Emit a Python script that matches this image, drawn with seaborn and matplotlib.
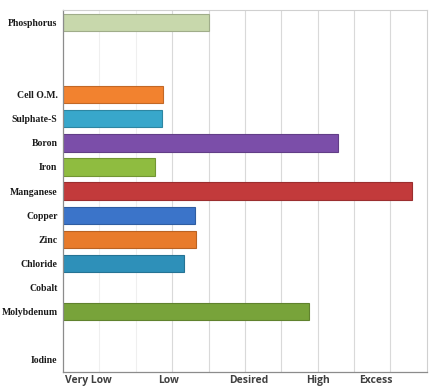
import numpy as np
import pandas as pd
import matplotlib
matplotlib.use("Agg")
import matplotlib.pyplot as plt
import seaborn as sns

# -----------------------------
# DATA
# -----------------------------
# blank slots keep the gaps that the chart shows between groups
nutrients = ["Phosphorus", " ", "  ", "Cell O.M.", "Sulphate-S", "Boron", "Iron",
             "Manganese", "Copper", "Zinc", "Chloride", "Cobalt", "Molybdenum",
             "   ", "Iodine"]
levels = [4.0, 0, 0, 2.75, 2.72, 7.55, 2.53, 9.6, 3.63, 3.65, 3.32, 0, 6.76, 0, 0]
bar_colors = ["#c8d8ac", "#ffffff", "#ffffff", "#f2822f", "#38a7cb", "#7b4ea9",
              "#8fbc40", "#c23a3b", "#3b74c9", "#e87b2b", "#2e90b9", "#ffffff",
              "#78a33a", "#ffffff", "#ffffff"]

rating_labels = ["Very Low", "Low", "Desired", "High", "Excess"]
rating_pos = [0.69, 2.9, 5.1, 7.0, 8.6]

df = pd.DataFrame({"Nutrient": nutrients, "Level": levels})

# -----------------------------
# PLOT
# -----------------------------
sns.set_style("white")
fig = plt.figure(figsize=(4.32, 3.90), dpi=100)
ax = fig.add_axes([0.146, 0.046, 0.842, 0.928])

palette = dict(zip(nutrients, bar_colors))
sns.barplot(data=df, x="Level", y="Nutrient", hue="Nutrient", order=nutrients,
            palette=palette, legend=False, width=0.72, saturation=1, ax=ax)

# darker rims like the original bevelled bars
for patch, c in zip(ax.patches, bar_colors):
    if patch.get_width() > 0:
        rgb = np.array(matplotlib.colors.to_rgb(c)) * 0.8
        patch.set_edgecolor(rgb)
        patch.set_linewidth(0.8)

ax.set_xlim(0, 10)
ax.set_ylim(len(nutrients) - 0.5, -0.5)

for g in range(1, 10):
    col = "#efefef" if g < 3 else "#d9d9d9"
    ax.axvline(g, color=col, lw=0.8, zorder=0)

ax.set_xticks(rating_pos)
ax.set_xticklabels(rating_labels, fontsize=7.5, fontweight="bold",
                   family="Open Sans", color="#404040")
ax.tick_params(axis="x", length=0, pad=2)
ax.tick_params(axis="y", length=0, pad=4)
for lab in ax.get_yticklabels():
    lab.set_family("Liberation Serif")
    lab.set_fontweight("bold")
    lab.set_fontsize(7)
    lab.set_color("#1a1a1a")

ax.set_xlabel("")
ax.set_ylabel("")

for side in ["top", "right"]:
    ax.spines[side].set_color("#d0d0d0")
    ax.spines[side].set_linewidth(0.8)
ax.spines["left"].set_color("#8c8c8c")
ax.spines["bottom"].set_color("#8c8c8c")
ax.spines["left"].set_linewidth(0.9)
ax.spines["bottom"].set_linewidth(0.9)

fig.savefig("out.png", dpi=100)
